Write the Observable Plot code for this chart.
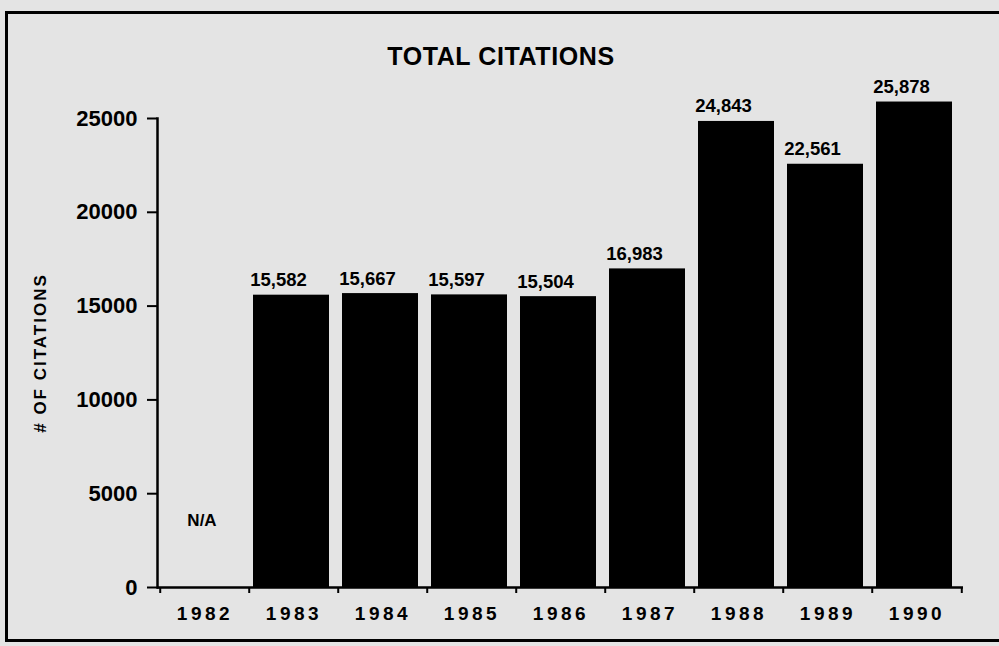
<!DOCTYPE html>
<html>
<head>
<meta charset="utf-8">
<script src="https://cdn.jsdelivr.net/npm/d3@7"></script>
<script src="https://cdn.jsdelivr.net/npm/@observablehq/plot@0.6"></script>
<style>
  html, body { margin: 0; padding: 0; background: #e4e4e4; overflow: hidden; }
  #page { position: relative; width: 999px; height: 646px; overflow: hidden; background: #e4e4e4;
          font-family: "Liberation Sans", Arial, Helvetica, sans-serif; }
  #topline { position: absolute; left: 5px; top: 11px; width: 1100px; height: 3px; background: #000; }
  #bottomline { position: absolute; left: 5px; top: 639px; width: 1100px; height: 3px; background: #000; }
  #leftline { position: absolute; left: 5px; top: 11px; width: 3px; height: 631px; background: #000; }
  #title { position: absolute; top: 42px; left: 0; width: 1002px; text-align: center;
           font-weight: bold; font-size: 25px; letter-spacing: 0.6px; color: #000; }
  #chart { position: absolute; left: 0; top: 80px; }
</style>
</head>
<body>
<div id="page">
  <div id="topline"></div>
  <div id="bottomline"></div>
  <div id="leftline"></div>
  <div id="title">TOTAL CITATIONS</div>
  <div id="chart"></div>
</div>
<script>
const years = ["1982", "1983", "1984", "1985", "1986", "1987", "1988", "1989", "1990"];
const citations = [null, 15582, 15667, 15597, 15504, 16983, 24843, 22561, 25878];
const yTicks = [0, 5000, 10000, 15000, 20000, 25000];
const missingLabel = "N/A";
const yLabel = "# OF CITATIONS";

const rows = years.map((year, i) => ({year, value: citations[i]}));
const present = rows.filter(d => d.value != null);
const missing = rows.filter(d => d.value == null);

const W = 999, H = 566, ML = 157, MR = 36, MT = 38, MB = 59;
const step = (W - ML - MR) / years.length;
const font = '"Liberation Sans", Arial, Helvetica, sans-serif';

const chart = Plot.plot({
  width: W,
  height: H,
  marginLeft: ML,
  marginRight: MR,
  marginTop: MT,
  marginBottom: MB,
  style: {fontFamily: font, color: "#000", background: "transparent", overflow: "visible"},
  x: {domain: years, padding: 0},
  y: {domain: [yTicks[0], yTicks[yTicks.length - 1]]},
  marks: [
    Plot.barY(present, {x: "year", y: "value", fill: "#000", insetLeft: 4, insetRight: 9}),
    Plot.frame({anchor: "left", strokeWidth: 2.5}),
    Plot.ruleY([0], {strokeWidth: 2.5}),
    Plot.ruleX(years, {x: d => d, y1: 0, y2: 0, insetBottom: -6, dx: -step / 2, strokeWidth: 2}),
    Plot.ruleX(years.slice(-1), {x: d => d, y1: 0, y2: 0, insetBottom: -6, dx: step / 2, strokeWidth: 2}),
    Plot.axisY({
      ticks: yTicks, tickFormat: d3.format("d"), tickSize: 10, tickPadding: 10,
      strokeWidth: 2, fontSize: 22, fontWeight: "bold",
      label: yLabel, labelAnchor: "center", labelOffset: 124, labelArrow: "none"
    }),
    Plot.axisX({tickSize: 0, tickPadding: 19, fontSize: 19, fontWeight: "bold", label: null}),
    Plot.text(present, {
      x: "year", y: "value", text: d => d3.format(",")(d.value),
      textAnchor: "start", lineAnchor: "bottom", dx: -step / 2 + 1, dy: -9,
      fontSize: 18.5, fontWeight: "bold"
    }),
    Plot.text(missing, {
      x: "year", y: 0, text: () => missingLabel,
      lineAnchor: "bottom", dy: -62, fontSize: 17, fontWeight: "bold", dx: -3
    })
  ]
});

chart.querySelectorAll('[aria-label="x-axis tick label"] text').forEach(t => t.setAttribute("letter-spacing", "3.5"));
chart.querySelectorAll('[aria-label="y-axis label"] text').forEach(t => {
  t.setAttribute("font-size", "17");
  t.setAttribute("font-weight", "bold");
  t.setAttribute("letter-spacing", "2");
});
document.getElementById("chart").appendChild(chart);
</script>
</body>
</html>
